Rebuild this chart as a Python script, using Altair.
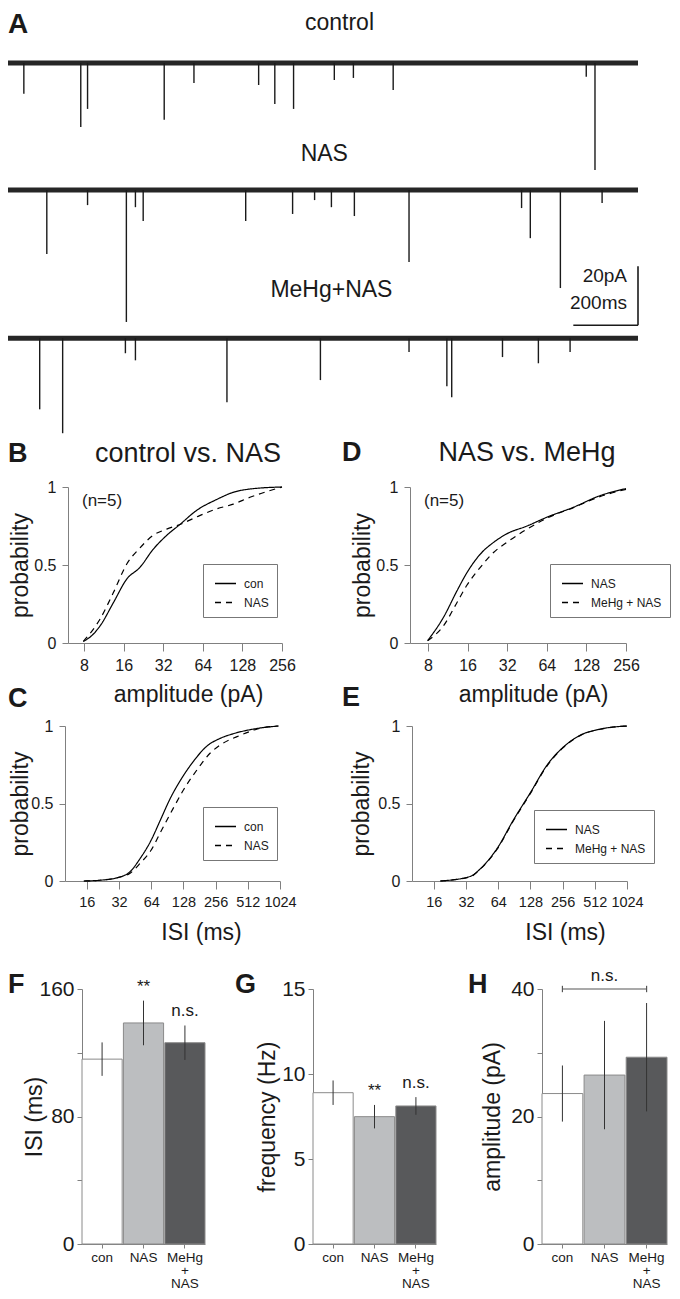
import altair as alt
import pandas as pd

FONT = "Liberation Sans"
INK = "#1a1a1a"
AXIS_GRAY = "#808080"

# ---------------- Panel A : example recordings ----------------
TRACE_NAMES = ["control", "NAS", "MeHg+NAS"]
TRACE_BASELINE_PA = [0.0, -43.1, -93.3]
TRACE_NOISE_PA = 0.85          # half thickness of the noisy baseline band
TRACE_START_MS = 0
TRACE_END_MS = 1948
TRACE_LABEL_MS = [1025, 978, 1000]
TRACE_LABEL_PA = [13.4, -30.9, -77.0]

CON_EVENT_MS = [49, 225, 246, 483, 575, 775, 825, 883, 1009, 1068, 1191, 1788, 1815]
CON_EVENT_PA = [10.5, 21.7, 15.6, 19.3, 6.8, 7.5, 13.9, 15.6, 5.8, 5.1, 9.2, 4.7, 36.3]
NAS_EVENT_MS = [120, 246, 366, 394, 418, 735, 880, 948, 1000, 1071, 1240, 1588, 1615, 1708, 1837]
NAS_EVENT_PA = [21.7, 5.1, 44.7, 5.8, 10.5, 10.5, 8.1, 3.4, 5.8, 8.8, 24.4, 6.1, 16.3, 33.2, 4.4]
MEHG_EVENT_MS = [98, 169, 363, 394, 677, 966, 1240, 1357, 1372, 1529, 1640, 1738]
MEHG_EVENT_PA = [24.1, 32.2, 5.1, 7.5, 21.7, 14.2, 4.7, 16.3, 20.0, 6.4, 8.5, 4.7]

SB_PA = 20
SB_MS = 200
SB_END_MS = 1948
SB_BOTTOM_PA = -88.9
SB_TEXT_MS = 1914
SB_TEXTS = ["20pA", "200ms"]
SB_TEXT_PA = [-72.2, -81.3]

A_X_DOMAIN = [0, 1948]
A_Y_DOMAIN = [-127.8, 18.6]

# ---------------- Panels B-E : cumulative distributions ----------------
B_SERIES = ["con", "NAS"]
B_CON_AMP = [7.9, 9.15, 10.6, 13.4, 16.9, 21.3, 26.8, 34.0, 42.9, 57.4, 81.6, 109, 146, 256]
B_CON_P = [0.01, 0.047, 0.11, 0.26, 0.41, 0.485, 0.60, 0.69, 0.76, 0.85, 0.92, 0.966, 0.987, 1.0]
B_NAS_AMP = [7.9, 10.6, 13.4, 16.9, 21.3, 26.8, 34.0, 42.9, 60, 81.6, 109, 146, 256]
B_NAS_P = [0.01, 0.154, 0.325, 0.506, 0.61, 0.69, 0.73, 0.76, 0.815, 0.86, 0.89, 0.934, 1.0]

D_SERIES = ["NAS", "MeHg + NAS"]
D_AMP = [7.95, 10.5, 13.3, 15.8, 20.0, 25.2, 31.8, 45.3, 64, 102, 162, 256]
D_NAS_P = [0.015, 0.165, 0.335, 0.45, 0.57, 0.645, 0.70, 0.75, 0.806, 0.87, 0.944, 0.99]
D_MEHG_P = [0.015, 0.11, 0.26, 0.37, 0.485, 0.58, 0.645, 0.73, 0.80, 0.868, 0.938, 0.985]

C_CON_ISI = [15, 21.3, 32, 40.6, 50.4, 64, 77.6, 96, 128, 158, 212, 282, 374, 576, 990]
C_CON_P = [0.0, 0.005, 0.024, 0.06, 0.145, 0.264, 0.39, 0.53, 0.68, 0.77, 0.87, 0.92, 0.95, 0.98, 1.0]
C_NAS_ISI = [15, 21.3, 32, 40.6, 50.4, 64, 77.6, 103, 128, 171, 227, 282, 435, 667, 990]
C_NAS_P = [0.0, 0.005, 0.024, 0.05, 0.114, 0.20, 0.31, 0.47, 0.587, 0.716, 0.824, 0.877, 0.94, 0.985, 1.0]

E_ISI = [18.4, 35.2, 43.7, 62.5, 89, 128, 182, 261, 373, 575, 1024]
E_NAS_P = [0.0, 0.03, 0.08, 0.21, 0.395, 0.57, 0.745, 0.865, 0.94, 0.98, 1.0]
E_MEHG_P = [0.0, 0.028, 0.078, 0.205, 0.39, 0.565, 0.74, 0.862, 0.938, 0.979, 1.0]

AMP_TICKS = [8, 16, 32, 64, 128, 256]
ISI_TICKS = [16, 32, 64, 128, 256, 512, 1024]

# ---------------- Panels F-H : bar summaries ----------------
BAR_CATS = ["con", "NAS", "MeHg|+|NAS"]
BAR_FILLS = ["#ffffff", "#bcbec0", "#58595b"]
F_MEAN = [116.0, 138.7, 126.3]
F_ERR = [10.5, 14.0, 10.8]
F_SIG = ["", "**", "n.s."]
G_MEAN = [8.9, 7.49, 8.12]
G_ERR = [0.72, 0.69, 0.52]
G_SIG = ["", "**", "n.s."]
H_MEAN = [23.6, 26.5, 29.3]
H_ERR = [4.4, 8.5, 8.5]
H_SIG = ["", "", ""]


def label_layer(text, x, y, size, weight="normal", align="left"):
    return alt.Chart(pd.DataFrame({"t": [text]})).mark_text(
        font=FONT, fontSize=size, fontWeight=weight, align=align,
        baseline="middle", color=INK,
    ).encode(x=alt.value(x), y=alt.value(y), text="t:N")


def spacer(w, h=1):
    return alt.Chart(pd.DataFrame({"z": [0]})).mark_point(opacity=0, size=1).encode(
        x=alt.value(1), y=alt.value(0)
    ).properties(width=w, height=h)


def indep(c):
    return c.resolve_scale(strokeDash="independent").resolve_legend(strokeDash="independent")


# ---------- A ----------
base_rows, ev_rows = [], []
for name, base, et, ea in zip(TRACE_NAMES, TRACE_BASELINE_PA,
                              [CON_EVENT_MS, NAS_EVENT_MS, MEHG_EVENT_MS],
                              [CON_EVENT_PA, NAS_EVENT_PA, MEHG_EVENT_PA]):
    base_rows.append({"trace": name, "t0": TRACE_START_MS, "t1": TRACE_END_MS,
                      "lo": base - TRACE_NOISE_PA, "hi": base + TRACE_NOISE_PA})
    for t, a in zip(et, ea):
        ev_rows.append({"trace": name, "t": t, "y": base, "y2": base - a})
base_df = pd.DataFrame(base_rows)
ev_df = pd.DataFrame(ev_rows)
lab_df = pd.DataFrame({"name": TRACE_NAMES, "t": TRACE_LABEL_MS, "y": TRACE_LABEL_PA})

sxA = alt.Scale(domain=A_X_DOMAIN, nice=False, zero=False)
syA = alt.Scale(domain=A_Y_DOMAIN, nice=False, zero=False)

a_base = alt.Chart(base_df).mark_rect(color="#262626").encode(
    x=alt.X("t0:Q", scale=sxA, axis=None), x2="t1:Q",
    y=alt.Y("lo:Q", scale=syA, axis=None), y2="hi:Q")
a_events = alt.Chart(ev_df).mark_rule(strokeWidth=1.4, color=INK).encode(
    x=alt.X("t:Q", scale=sxA, axis=None),
    y=alt.Y("y:Q", scale=syA, axis=None), y2="y2:Q")
a_labels = alt.Chart(lab_df).mark_text(font=FONT, fontSize=23, color=INK).encode(
    x=alt.X("t:Q", scale=sxA, axis=None), y=alt.Y("y:Q", scale=syA, axis=None), text="name:N")
sb_v = alt.Chart(pd.DataFrame({"t": [SB_END_MS], "y": [SB_BOTTOM_PA], "y2": [SB_BOTTOM_PA + SB_PA]})).mark_rule(
    strokeWidth=1.6, color=INK).encode(
    x=alt.X("t:Q", scale=sxA, axis=None), y=alt.Y("y:Q", scale=syA, axis=None), y2="y2:Q")
sb_h = alt.Chart(pd.DataFrame({"t": [SB_END_MS - SB_MS], "t2": [SB_END_MS], "y": [SB_BOTTOM_PA]})).mark_rule(
    strokeWidth=1.6, color=INK).encode(
    x=alt.X("t:Q", scale=sxA, axis=None), x2="t2:Q", y=alt.Y("y:Q", scale=syA, axis=None))
sb_txt = alt.Chart(pd.DataFrame({"s": SB_TEXTS, "t": [SB_TEXT_MS] * 2, "y": SB_TEXT_PA})).mark_text(
    font=FONT, fontSize=19, align="right", color=INK).encode(
    x=alt.X("t:Q", scale=sxA, axis=None), y=alt.Y("y:Q", scale=syA, axis=None), text="s:N")

chartA = alt.layer(a_base, a_events, a_labels, sb_v, sb_h, sb_txt,
                   label_layer("A", 0, 17, 28, "bold")).properties(width=630, height=432)


# ---------- B-E ----------
def cdf_panel(letter, letter_dx, letter_dy, title, title_dx, series, xs, ps, xdom,
              xticks, xtitle, xtitle_x, ytitle_x, width, height, legend_x, legend_y,
              xlabel_size, show_n):
    rows = []
    for s, xv, pv in zip(series, xs, ps):
        for v, p in zip(xv, pv):
            rows.append({"series": s, "v": v, "p": p})
    df = pd.DataFrame(rows)
    x_axis = alt.Axis(values=xticks, format="d", title=xtitle, titleX=xtitle_x, titleY=58,
                      titleBaseline="alphabetic", titleFontSize=23, labelFontSize=xlabel_size,
                      tickSize=8, labelPadding=6, labelFlush=False, labelOverlap=False, grid=False)
    y_axis = alt.Axis(values=[0, 0.5, 1], format="~g", title="probability", titleX=ytitle_x,
                      titleY=height / 2, titleBaseline="middle", titleFontSize=23,
                      labelFontSize=16, tickSize=6, labelPadding=6, grid=False)
    legend = alt.Legend(title=None, orient="none", legendX=legend_x, legendY=legend_y,
                        strokeColor="#777", fillColor="white", padding=8,
                        symbolType="stroke", symbolSize=441, symbolStrokeWidth=1.6,
                        symbolStrokeColor="black", labelFontSize=12, labelFont=FONT,
                        labelColor=INK, rowPadding=1, labelOffset=7, symbolOffset=3)
    lines = alt.Chart(df).mark_line(color="black", strokeWidth=1.2, interpolate="monotone").encode(
        x=alt.X("v:Q", scale=alt.Scale(type="log", base=2, domain=xdom, nice=False), axis=x_axis),
        y=alt.Y("p:Q", scale=alt.Scale(domain=[0, 1], nice=False), axis=y_axis),
        strokeDash=alt.StrokeDash("series:N", scale=alt.Scale(domain=series, range=[[1, 0], [6, 5]]),
                                  legend=legend, sort=series),
    )
    layers = [lines, label_layer(letter, letter_dx, letter_dy, 27, "bold")]
    if title:
        layers.append(label_layer(title, title_dx, letter_dy, 27, align="center"))
    if show_n:
        layers.append(label_layer("(n=5)", 14, 14, 17))
    return alt.layer(*layers).properties(width=width, height=height)


chartB = cdf_panel("B", -60, -33, "control vs. NAS", 120, B_SERIES,
                   [B_CON_AMP, B_NAS_AMP], [B_CON_P, B_NAS_P], [6.04, 256], AMP_TICKS,
                   "amplitude (pA)", 120, -48, 214, 156, 135, 77, 16, True)
chartD = cdf_panel("D", -68, -34, "NAS vs. MeHg", 117, D_SERIES,
                   [D_AMP, D_AMP], [D_NAS_P, D_MEHG_P], [5.84, 256], AMP_TICKS,
                   "amplitude (pA)", 123, -48, 216, 156, 140, 77, 16, True)
chartC = cdf_panel("C", -57, -27, None, 0, B_SERIES,
                   [C_CON_ISI, C_NAS_ISI], [C_CON_P, C_NAS_P], [10, 1024], ISI_TICKS,
                   "ISI (ms)", 136, -45, 215, 155, 138, 81, 14.5, False)
chartE = cdf_panel("E", -70, -28, None, 0, D_SERIES,
                   [E_ISI, E_ISI], [E_NAS_P, E_MEHG_P], [10, 1024], ISI_TICKS,
                   "ISI (ms)", 153, -51, 215, 155, 122, 84, 14.5, False)


# ---------- F-H ----------
def bar_panel(letter, letter_dx, means, errs, sigs, ymax, yvalues, every, ytitle,
              ytitle_x, width, height, bracket=False):
    df = pd.DataFrame({
        "cat": BAR_CATS, "mean": means,
        "lo": [m - e for m, e in zip(means, errs)],
        "hi": [m + e for m, e in zip(means, errs)],
        "sig": sigs,
    })
    xs = alt.Scale(domain=BAR_CATS, paddingInner=0.03, paddingOuter=0)
    ys = alt.Scale(domain=[0, ymax], nice=False)
    x_axis = alt.Axis(title=None, labelAngle=0, labelExpr="split(datum.label, '|')",
                      labelFontSize=13.5, labelLineHeight=13, tickSize=4, labelPadding=2,
                      grid=False)
    y_axis = alt.Axis(values=yvalues, format="d",
                      labelExpr=f"datum.value % {every} == 0 ? datum.label : ''",
                      title=ytitle, titleX=ytitle_x, titleY=height / 2, titleBaseline="middle",
                      titleFontSize=23, labelFontSize=21, tickSize=5, labelPadding=3, grid=False)
    bars = alt.Chart(df).mark_bar(stroke="#8a8a8a", strokeWidth=1).encode(
        x=alt.X("cat:N", sort=BAR_CATS, scale=xs, axis=x_axis),
        y=alt.Y("mean:Q", scale=ys, axis=y_axis),
        fill=alt.Fill("cat:N", scale=alt.Scale(domain=BAR_CATS, range=BAR_FILLS), legend=None),
    )
    errs_l = alt.Chart(df).mark_rule(color="#333", strokeWidth=1).encode(
        x=alt.X("cat:N", sort=BAR_CATS, scale=xs), y=alt.Y("lo:Q", scale=ys), y2="hi:Q")
    sig_t = alt.Chart(df).mark_text(font=FONT, fontSize=17, dy=-14, color=INK).encode(
        x=alt.X("cat:N", sort=BAR_CATS, scale=xs), y=alt.Y("hi:Q", scale=ys), text="sig:N")
    layers = [bars, errs_l, sig_t, label_layer(letter, letter_dx, -4, 27, "bold")]
    if bracket:
        bdf = pd.DataFrame({"a": [BAR_CATS[0]], "b": [BAR_CATS[2]], "y": [ymax]})
        cdf = pd.DataFrame({"cat": [BAR_CATS[0], BAR_CATS[2]], "y": [ymax - 0.5] * 2,
                            "y2": [ymax + 0.5] * 2})
        tdf = pd.DataFrame({"cat": [BAR_CATS[1]], "y": [ymax], "t": ["n.s."]})
        layers += [
            alt.Chart(bdf).mark_rule(color="#555", strokeWidth=1.2).encode(
                x=alt.X("a:N", scale=xs), x2="b:N", y=alt.Y("y:Q", scale=ys)),
            alt.Chart(cdf).mark_rule(color="#555", strokeWidth=1.2).encode(
                x=alt.X("cat:N", scale=xs), y=alt.Y("y:Q", scale=ys), y2="y2:Q"),
            alt.Chart(tdf).mark_text(font=FONT, fontSize=17, dy=-13, color=INK).encode(
                x=alt.X("cat:N", scale=xs), y=alt.Y("y:Q", scale=ys), text="t:N"),
        ]
    return alt.layer(*layers).properties(width=width, height=height)


chartF = bar_panel("F", -74, F_MEAN, F_ERR, F_SIG, 160, [0, 40, 80, 120, 160], 80,
                   "ISI (ms)", -48, 123, 255)
chartG = bar_panel("G", -78, G_MEAN, G_ERR, G_SIG, 15, [0, 5, 10, 15], 5,
                   "frequency (Hz)", -46, 123, 255)
chartH = bar_panel("H", -74, H_MEAN, H_ERR, H_SIG, 40, [0, 10, 20, 30, 40], 20,
                   "amplitude (pA)", -50, 125, 255, bracket=True)

rowBD = indep(alt.hconcat(spacer(60), chartB, spacer(128), chartD, spacing=0, bounds="flush"))
rowCE = indep(alt.hconcat(spacer(57), chartC, spacer(132), chartE, spacing=0, bounds="flush"))
rowFGH = alt.hconcat(spacer(74), chartF, spacer(108), chartG, spacer(106), chartH,
                     spacing=0, bounds="flush")

upper = indep(alt.vconcat(chartA, rowBD, spacing=-1))
lower = indep(alt.vconcat(rowCE, rowFGH, spacing=23))

chart = indep(alt.vconcat(upper, lower, spacing=-22)).properties(
    padding={"left": 0, "top": 0, "right": 0, "bottom": 0}
).configure_view(stroke=None).configure_axis(
    domainColor=AXIS_GRAY, tickColor=AXIS_GRAY, labelColor=INK, titleColor=INK,
    labelFont=FONT, titleFont=FONT, titleFontWeight="normal", domainWidth=1, tickWidth=1,
).configure_legend(labelFont=FONT)

chart.save("out.html", embed_options={"renderer": "svg", "actions": False})
